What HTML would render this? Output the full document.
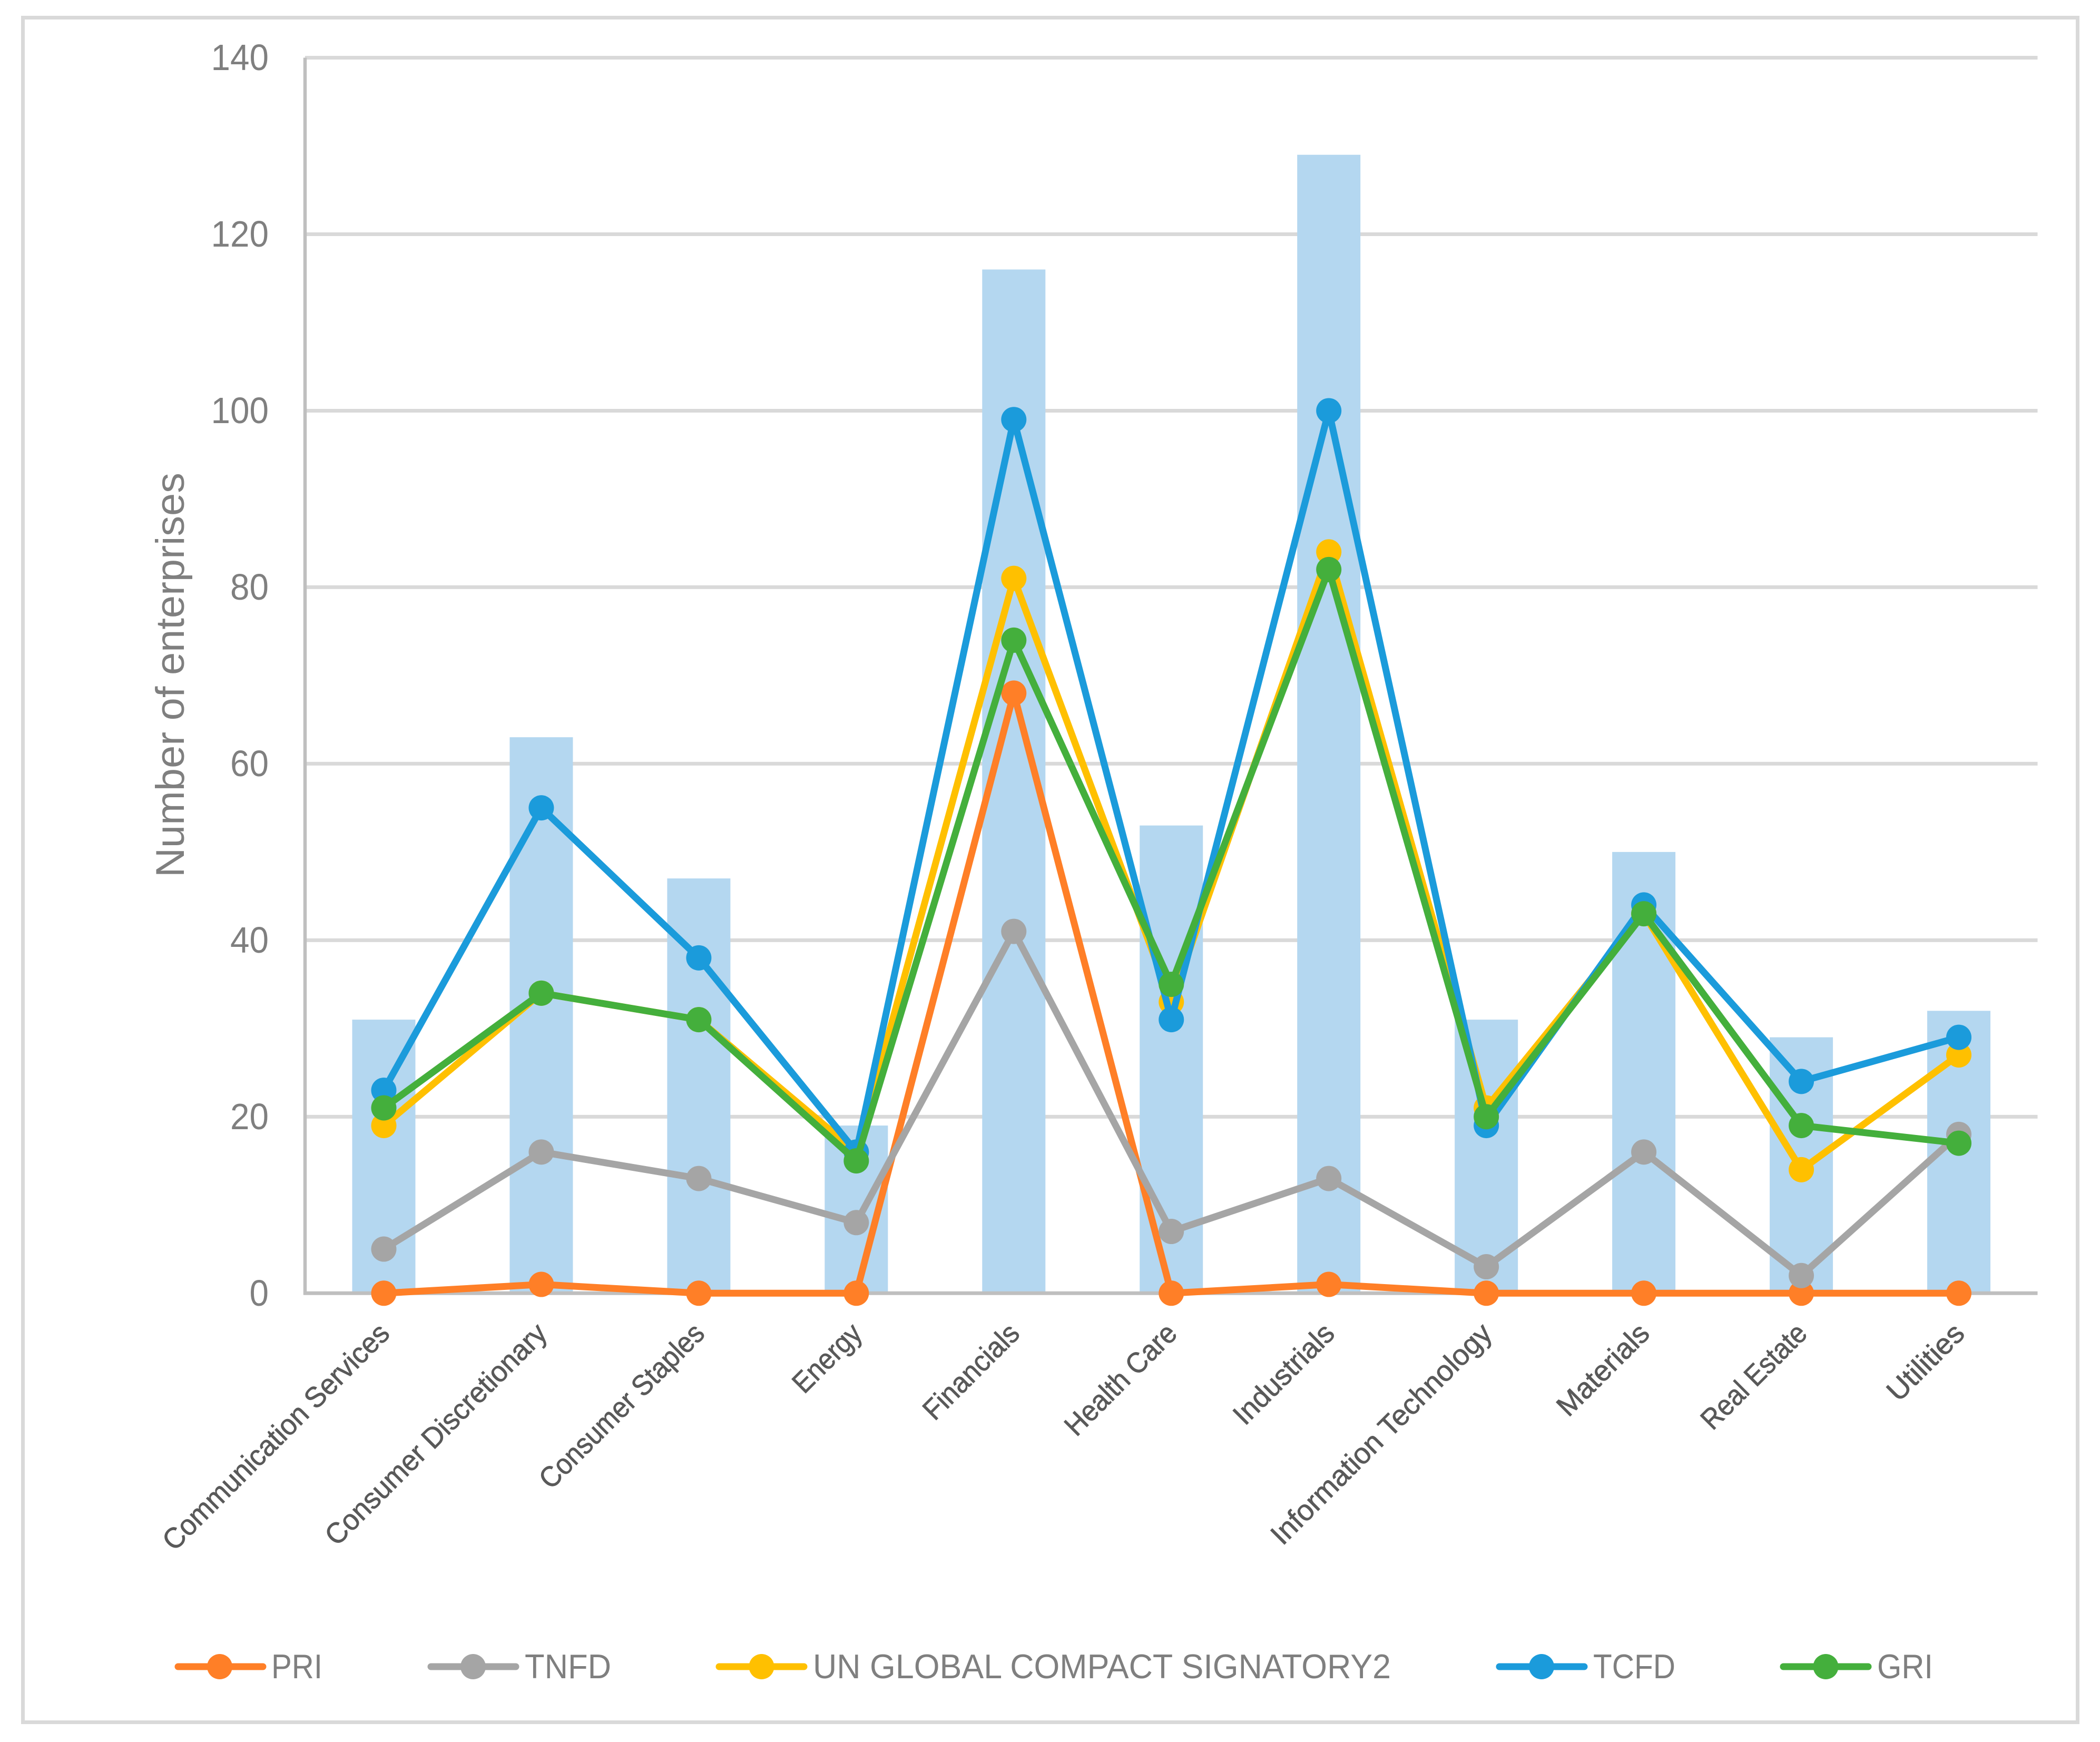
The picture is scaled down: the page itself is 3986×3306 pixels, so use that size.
<!DOCTYPE html>
<html lang="en">
<head>
<meta charset="utf-8">
<title>Number of enterprises by sector</title>
<style>
html,body{margin:0;padding:0;background:#fff;}
svg{display:block;}
text{font-family:"Liberation Sans",sans-serif;}
</style>
</head>
<body>
<svg id="chart" xmlns="http://www.w3.org/2000/svg" width="3986" height="3306" viewBox="0 0 3986 3306">
  <rect x="0" y="0" width="3986" height="3306" fill="#ffffff"/>
  <rect x="43.5" y="33.5" width="3900" height="3235" fill="none" stroke="#d9d9d9" stroke-width="7"/>
  <g id="grid"></g>
  <g id="bars"></g>
  <g id="axes"></g>
  <g id="series"></g>
  <text transform="translate(349,1665) rotate(-90)" font-size="76" fill="#7f7f7f" textLength="768" lengthAdjust="spacingAndGlyphs">Number of enterprises</text>
  <g>
    <g>
      <line x1="338" y1="3163" x2="499" y2="3163" stroke="#ff7f27" stroke-width="13" stroke-linecap="round"/>
      <circle cx="417" cy="3163" r="24" fill="#ff7f27"/>
      <text x="515" y="3185" font-size="65" fill="#7f7f7f" textLength="97" lengthAdjust="spacingAndGlyphs">PRI</text>
    </g>
    <g>
      <line x1="818" y1="3163" x2="979" y2="3163" stroke="#a5a5a5" stroke-width="13" stroke-linecap="round"/>
      <circle cx="898" cy="3163" r="24" fill="#a5a5a5"/>
      <text x="996" y="3185" font-size="65" fill="#7f7f7f" textLength="164" lengthAdjust="spacingAndGlyphs">TNFD</text>
    </g>
    <g>
      <line x1="1365" y1="3163" x2="1526" y2="3163" stroke="#ffc000" stroke-width="13" stroke-linecap="round"/>
      <circle cx="1445.5" cy="3163" r="24" fill="#ffc000"/>
      <text x="1543" y="3185" font-size="65" fill="#7f7f7f" textLength="1097" lengthAdjust="spacingAndGlyphs">UN GLOBAL COMPACT SIGNATORY2</text>
    </g>
    <g>
      <line x1="2846" y1="3163" x2="3007" y2="3163" stroke="#1b9bdb" stroke-width="13" stroke-linecap="round"/>
      <circle cx="2926" cy="3163" r="24" fill="#1b9bdb"/>
      <text x="3024" y="3185" font-size="65" fill="#7f7f7f" textLength="156" lengthAdjust="spacingAndGlyphs">TCFD</text>
    </g>
    <g>
      <line x1="3385" y1="3163" x2="3546" y2="3163" stroke="#44af3c" stroke-width="13" stroke-linecap="round"/>
      <circle cx="3465.5" cy="3163" r="24" fill="#44af3c"/>
      <text x="3563" y="3185" font-size="65" fill="#7f7f7f" textLength="106" lengthAdjust="spacingAndGlyphs">GRI</text>
    </g>
  </g>
</svg>
<script>
const categories = ["Communication Services","Consumer Discretionary","Consumer Staples","Energy","Financials","Health Care","Industrials","Information Technology","Materials","Real Estate","Utilities"];
const totalValues = [31,63,47,19,116,53,129,31,50,29,32];
const priValues = [0,1,0,0,68,0,1,0,0,0,0];
const tnfdValues = [5,16,13,8,41,7,13,3,16,2,18];
const unGlobalCompactValues = [19,34,31,16,81,33,84,21,43,14,27];
const tcfdValues = [23,55,38,16,99,31,100,19,44,24,29];
const griValues = [21,34,31,15,74,35,82,20,43,19,17];
const yTickValues = [0,20,40,60,80,100,120,140];

const plotLeft = 579, plotRight = 3867.5, plotTop = 109.5, plotBottom = 2454.3, yMax = 140;
const NS = "http://www.w3.org/2000/svg";
function xScale(i){ return plotLeft + (i + 0.5) * (plotRight - plotLeft) / categories.length; }
function yScale(v){ return plotBottom - v * (plotBottom - plotTop) / yMax; }
function make(tag, parent){
  const el = document.createElementNS(NS, tag);
  parent.appendChild(el);
  return el;
}

/* Font-metric correction: Liberation advances differ from the reference face label by label. */
const labelLengthCorrection = {
  "Communication Services": 7, "Consumer Discretionary": 11, "Consumer Staples": -11,
  "Energy": -5, "Financials": -2, "Health Care": -3, "Industrials": 8,
  "Information Technology": 30, "Materials": 11, "Real Estate": -11, "Utilities": 14
};
const labelBaseFontSize = 52;
const labelFontSize = 55;

const gridG = document.getElementById("grid");
const barsG = document.getElementById("bars");
const axesG = document.getElementById("axes");
const seriesG = document.getElementById("series");

yTickValues.forEach(function(t){
  if (t !== 0) {
    const g = make("line", gridG);
    
    
    g.setAttribute("x1", plotLeft);
    g.setAttribute("x2", plotRight);
    g.setAttribute("y1", yScale(t));
    g.setAttribute("y2", yScale(t));
    g.setAttribute("stroke", "#d9d9d9");
    g.setAttribute("stroke-width", "7");
  }
  const label = make("text", axesG);
  
  
  label.setAttribute("x", 510);
  label.setAttribute("y", yScale(t) + 23.5);
  label.setAttribute("text-anchor", "end");
  label.setAttribute("font-size", "70");
  label.setAttribute("fill", "#7f7f7f");
  label.setAttribute("textLength", String(t).length * 36.5);
  label.setAttribute("lengthAdjust", "spacingAndGlyphs");
  label.textContent = t;
});

totalValues.forEach(function(v, i){
  const b = make("rect", barsG);
  
  
  b.setAttribute("x", xScale(i) - 60);
  b.setAttribute("width", 120);
  b.setAttribute("y", yScale(v));
  b.setAttribute("height", plotBottom - yScale(v));
  b.setAttribute("fill", "#b4d7f0");
});

const xAxis = make("line", axesG);


xAxis.setAttribute("x1", plotLeft - 3);
xAxis.setAttribute("x2", plotRight);
xAxis.setAttribute("y1", plotBottom);
xAxis.setAttribute("y2", plotBottom);
xAxis.setAttribute("stroke", "#bfbfbf");
xAxis.setAttribute("stroke-width", "7");

const yAxis = make("line", axesG);


yAxis.setAttribute("x1", plotLeft);
yAxis.setAttribute("x2", plotLeft);
yAxis.setAttribute("y1", plotTop);
yAxis.setAttribute("y2", plotBottom + 3);
yAxis.setAttribute("stroke", "#bfbfbf");
yAxis.setAttribute("stroke-width", "6.5");

categories.forEach(function(c, i){
  const label = make("text", axesG);
  
  
  label.setAttribute("transform", "translate(" + (xScale(i) + 14) + ",2534) rotate(-45)");
  label.setAttribute("text-anchor", "end");
  label.setAttribute("font-size", labelFontSize);
  label.setAttribute("fill", "#595959");
  label.setAttribute("stroke", "#595959");
  label.setAttribute("stroke-width", "0.8");
  label.textContent = c;
  const natural = label.getComputedTextLength() * labelBaseFontSize / labelFontSize;
  label.setAttribute("textLength", natural + (labelLengthCorrection[c] || 0));
  label.setAttribute("lengthAdjust", "spacingAndGlyphs");
});

function drawSeries(values, color){
  const group = make("g", seriesG);
  
  
  const path = make("polyline", group);
  
  
  path.setAttribute("points", values.map(function(v, i){ return xScale(i) + "," + yScale(v); }).join(" "));
  path.setAttribute("fill", "none");
  path.setAttribute("stroke", color);
  path.setAttribute("stroke-width", "13");
  path.setAttribute("stroke-linejoin", "round");
  values.forEach(function(v, i){
    const dot = make("circle", group);
    
    
    dot.setAttribute("cx", xScale(i));
    dot.setAttribute("cy", yScale(v));
    dot.setAttribute("r", 24);
    dot.setAttribute("fill", color);
  });
}
drawSeries(priValues, "#ff7f27");
drawSeries(tnfdValues, "#a5a5a5");
drawSeries(unGlobalCompactValues, "#ffc000");
drawSeries(tcfdValues, "#1b9bdb");
drawSeries(griValues, "#44af3c");
</script>
</body>
</html>
